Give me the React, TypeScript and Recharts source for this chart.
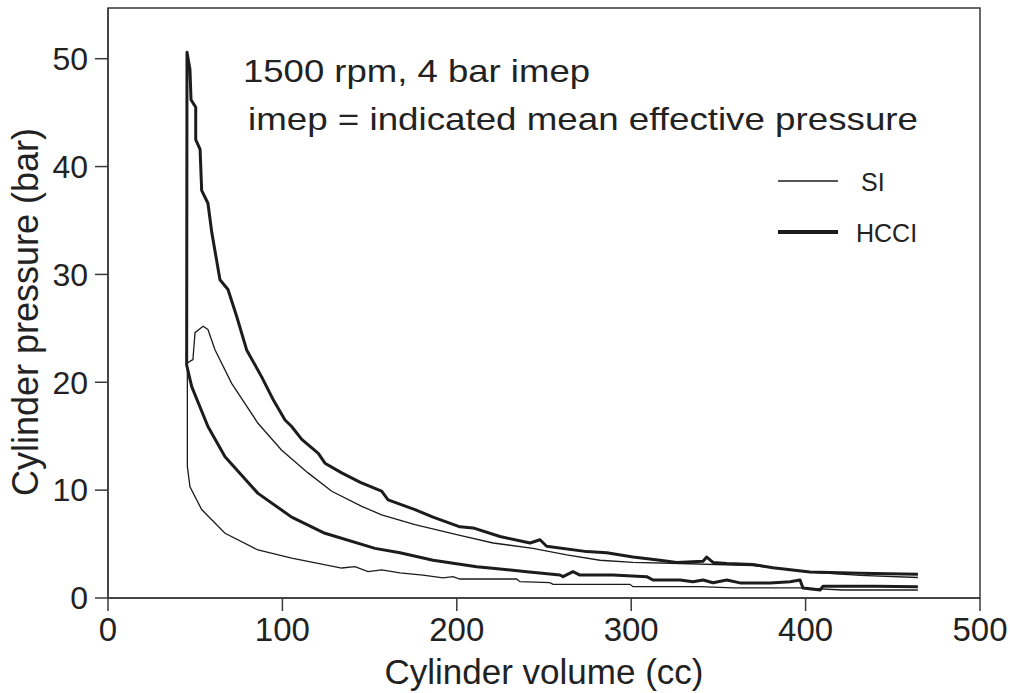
import { Line, LineChart, ReferenceArea, XAxis, YAxis } from "recharts";

// Cylinder volume (cc) and pressure (bar) around each cycle:
// compression from BDC to TDC, combustion rise, then expansion back out.
const hcciVolume = [
  464.4, 440, 410.0, 408.3, 398.5, 396.8, 391.1, 379.6, 362.4, 354.8, 346.9, 341.2, 335.4, 328.0,
  312.5, 308.9, 289.6, 270.6, 266.6, 260.9, 259.2, 240.1, 219.0, 211.4, 186.4, 167.4, 153.1, 124.4,
  105.3, 86.0, 67.1, 57.3, 48.0, 45.1, 45.3, 47.0, 47.6, 50.3, 50.3, 52.8, 53.7, 57.3, 59.5, 64.2,
  68.8, 73.8, 79.5, 88.1, 95.0, 101.5, 105.3, 111.1, 120.6, 124.4, 134.0, 145.0, 156.9, 160.6, 176.0,
  186.4, 201.8, 209.3, 224.8, 242.0, 247.7, 251.5, 274.5, 286.0, 301.0, 316.5, 326.1, 341.2, 343.3,
  346.9, 354.8, 369.8, 381.3, 402.5, 431.2, 464.4,
];
const hcciPressure = [
  1.05, 1.08, 1.1, 0.74, 0.93, 1.67, 1.5, 1.4, 1.4, 1.67, 1.42, 1.67, 1.5, 1.67, 1.67, 1.98, 2.13,
  2.13, 2.44, 1.98, 2.13, 2.44, 2.78, 2.9, 3.5, 4.2, 4.6, 6.0, 7.5, 9.7, 13.1, 15.9, 19.6, 21.6,
  50.6, 49.0, 46.2, 45.5, 42.5, 41.6, 37.8, 36.6, 33.9, 29.5, 28.6, 26.1, 23.0, 20.5, 18.3, 16.5,
  15.9, 14.7, 13.4, 12.5, 11.6, 10.7, 9.9, 9.1, 8.2, 7.5, 6.6, 6.5, 5.7, 5.1, 5.4, 4.8, 4.3, 4.2,
  3.8, 3.5, 3.3, 3.4, 3.8, 3.3, 3.2, 3.1, 2.8, 2.4, 2.3, 2.2,
];

const siVolume = [
  464.4, 421.4, 396.8, 358.4, 339.4, 301.0, 299.3, 255.2, 253.4, 236.2, 234.3, 201.8, 197.8, 192.1,
  180.6, 167.4, 156.9, 149.1, 141.6, 134.0, 105.3, 86.0, 67.1, 53.7, 47.0, 45.5, 45.5, 48.7, 49.9,
  54.5, 57.3, 61.4, 70.9, 86.0, 99.6, 114.7, 128.3, 145.5, 156.9, 176.0, 201.8, 220.8, 243.7, 263.0,
  282.1, 301.0, 328.0, 369.8, 402.5, 431.2, 464.4,
];
const siPressure = [
  0.74, 0.74, 0.93, 0.93, 1.05, 1.05, 1.27, 1.27, 1.42, 1.51, 1.76, 1.76, 1.98, 1.86, 2.13, 2.32,
  2.6, 2.44, 2.9, 2.78, 3.7, 4.45, 6.0, 8.2, 10.3, 12.2, 21.8, 22.1, 24.6, 25.2, 24.9, 23.0, 19.9,
  16.2, 13.7, 11.6, 9.9, 8.5, 7.7, 6.8, 5.8, 5.1, 4.6, 4.0, 3.5, 3.3, 3.2, 3.0, 2.4, 2.1, 1.9,
];

const volumeTicks = [0, 100, 200, 300, 400, 500];
const pressureTicks = [0, 10, 20, 30, 40, 50];
const Y_MAX = 54.7;

const hcciData = hcciVolume.map((v, i) => ({ v, p: hcciPressure[i] }));
const siData = siVolume.map((v, i) => ({ v, p: siPressure[i] }));

const INK = "#1c1c1c";
const AXIS = "#3a3a3a";
const TEXT = "#222";
const FONT = "'Liberation Sans', Arial, Helvetica, sans-serif";

// eslint-disable-next-line @typescript-eslint/no-explicit-any
function VolumeTitle(props: any) {
  const vb = props.viewBox ?? { x: 108, y: 598, width: 872 };
  return (
    <text
      x={vb.x + vb.width / 2}
      y={vb.y + 86}
      textAnchor="middle"
      fontSize={35}
      fontFamily={FONT}
      fill={TEXT}
    >
      Cylinder volume (cc)
    </text>
  );
}

// eslint-disable-next-line @typescript-eslint/no-explicit-any
function PressureTitle(props: any) {
  const vb = props.viewBox ?? { x: 0, y: 8, height: 590 };
  const cx = vb.x + 38;
  const cy = vb.y + vb.height / 2 + 9;
  return (
    <text
      x={cx}
      y={cy}
      transform={`rotate(-90, ${cx}, ${cy})`}
      textAnchor="middle"
      fontSize={36}
      fontFamily={FONT}
      fill={TEXT}
    >
      Cylinder pressure (bar)
    </text>
  );
}

function Overlay() {
  return (
    <svg
      width={1010}
      height={693}
      style={{ position: "absolute", left: 0, top: 0, pointerEvents: "none" }}
      fontFamily={FONT}
      fill={TEXT}
    >
      <text x={243} y={82} fontSize={32} textLength={347} lengthAdjust="spacingAndGlyphs">
        1500 rpm, 4 bar imep
      </text>
      <text x={248} y={130} fontSize={32} textLength={670} lengthAdjust="spacingAndGlyphs">
        imep = indicated mean effective pressure
      </text>
      <line x1={778} x2={838} y1={181} y2={181} stroke={INK} strokeWidth={1.3} />
      <text x={861} y={191} fontSize={25}>
        SI
      </text>
      <line x1={778} x2={838} y1={232} y2={232} stroke={INK} strokeWidth={4} />
      <text x={856} y={242} fontSize={25}>
        HCCI
      </text>
    </svg>
  );
}

export default function App() {
  return (
    <div
      style={{
        position: "absolute",
        left: 0,
        top: 0,
        width: 1010,
        height: 693,
        background: "#fff",
        fontFamily: FONT,
      }}
    >
      <LineChart width={1010} height={693} margin={{ top: 8, right: 30, left: 0, bottom: 0 }}>
        <XAxis
          type="number"
          dataKey="v"
          domain={[0, 500]}
          ticks={volumeTicks}
          height={95}
          tickSize={13}
          tickMargin={7}
          tick={{ fontSize: 33, fill: TEXT, fontFamily: FONT }}
          stroke={AXIS}
          strokeWidth={1.5}
          label={{ content: VolumeTitle }}
        />
        <YAxis
          type="number"
          dataKey="p"
          domain={[0, Y_MAX]}
          allowDataOverflow
          ticks={pressureTicks}
          width={108}
          tickSize={13}
          tickMargin={7}
          tick={{ fontSize: 32, fill: TEXT, fontFamily: FONT }}
          stroke={AXIS}
          strokeWidth={1.5}
          label={{ content: PressureTitle }}
        />
        <ReferenceArea
          x1={0}
          x2={500}
          y1={0}
          y2={Y_MAX}
          fill="none"
          stroke={AXIS}
          strokeWidth={1.5}
          ifOverflow="visible"
        />
        <Line
          data={siData}
          dataKey="p"
          type="linear"
          stroke={INK}
          strokeWidth={1.3}
          dot={false}
          isAnimationActive={false}
          name="SI"
        />
        <Line
          data={hcciData}
          dataKey="p"
          type="linear"
          stroke={INK}
          strokeWidth={3}
          dot={false}
          strokeLinejoin="round"
          isAnimationActive={false}
          name="HCCI"
        />
      </LineChart>
      <Overlay />
    </div>
  );
}
